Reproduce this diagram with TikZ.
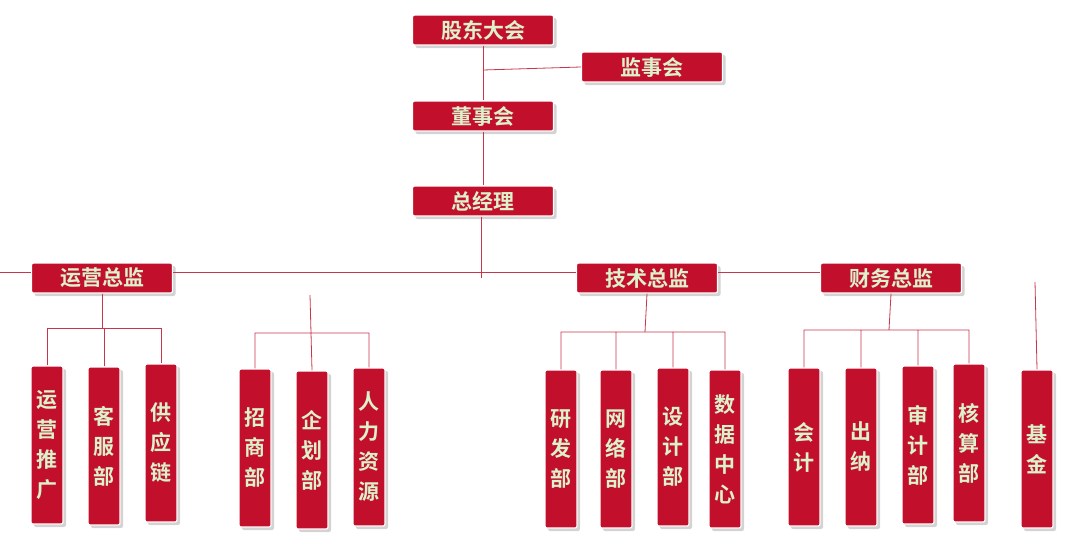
\documentclass[tikz,border=0pt]{standalone}
\usepackage{fontspec}
\setmainfont{Noto Sans CJK SC}[BoldFont={Noto Sans CJK SC Bold}]
\usetikzlibrary{shadows}
\definecolor{boxred}{HTML}{C2102C}
\definecolor{txt}{HTML}{DCF2CC}
\definecolor{ln}{HTML}{C8364C}
\begin{document}
\begin{tikzpicture}[x=1pt,y=-1pt,
 hbox/.style={fill=boxred,draw=white,line width=1.2pt,rounded corners=2pt,minimum width=141pt,minimum height=30pt,inner sep=0pt,text=txt,font=\bfseries\fontsize{21}{22}\selectfont,drop shadow={shadow xshift=3pt,shadow yshift=-3pt,opacity=0.35}},
 vbox/.style={fill=boxred,draw=white,line width=1.2pt,rounded corners=2pt,minimum width=32pt,minimum height=158pt,inner sep=0pt,text=txt,align=center,font=\bfseries\fontsize{21}{30}\selectfont,drop shadow={shadow xshift=3pt,shadow yshift=-3pt,opacity=0.35}},
 cn/.style={draw=ln,line width=0.8pt}]
\useasboundingbox (0,0) rectangle (1081,541);
% connectors first
\coordinate (lft) at (0,272);
\coordinate (j1) at (483,70);
\coordinate (j2) at (481,278);
\coordinate (g2top) at (310,295);
\coordinate (jfund) at (1035,282);
\node[hbox] (gd) at (483,30) {股东大会};
\node[hbox] (js) at (652,67) {监事会};
\node[hbox] (ds) at (483,116) {董事会};
\node[hbox] (zjl) at (483,201) {总经理};
\node[hbox] (yy) at (102,278) {运营总监};
\node[hbox] (js2) at (647,278) {技术总监};
\node[hbox] (cw) at (891,278) {财务总监};
\node[vbox] (a1) at (47,445) {运\\营\\推\\广};
\node[vbox] (a2) at (104,446) {客\\服\\部};
\node[vbox] (a3) at (161,443) {供\\应\\链};
\node[vbox] (b1) at (255,448) {招\\商\\部};
\node[vbox] (b2) at (312,450) {企\\划\\部};
\node[vbox] (b3) at (369,447) {人\\力\\资\\源};
\node[vbox] (c1) at (561,449) {研\\发\\部};
\node[vbox] (c2) at (616,449) {网\\络\\部};
\node[vbox] (c3) at (673,447) {设\\计\\部};
\node[vbox] (c4) at (725,449) {数\\据\\中\\心};
\node[vbox] (d1) at (804,447) {会\\计};
\node[vbox] (d2) at (861,447) {出\\纳};
\node[vbox] (d3) at (918,445) {审\\计\\部};
\node[vbox] (d4) at (969,443) {核\\算\\部};
\node[vbox] (fund) at (1037,449) {基\\金};
\begin{scope}[on background layer/.try]
\end{scope}
\draw[cn] (gd.south) -- (ds.north);
\draw[cn] (j1) -- (js.west);
\draw[cn] (ds.south) -- (zjl.north);
\draw[cn] (zjl.south -| j2) -- (j2);
\draw[cn] (lft) -- (yy.west |- lft);
\draw[cn] (yy.east |- lft) -- (js2.west |- lft);
\draw[cn] (js2.east |- lft) -- (cw.west |- lft);
\draw[cn] (yy.south) -- (102,328) (a1.north) |- (a3.north |- 0,328) -- (a3.north) (a2.north) -- (104,328);
\draw[cn] (g2top) -- (b2.north) (b1.north) |- (b3.north |- 0,333) -- (b3.north);
\draw[cn] (js2.south) -- (645,332) (c1.north) |- (c4.north |- 0,332) -- (c4.north) (c2.north) -- (616,332) (c3.north) -- (673,332);
\draw[cn] (cw.south) -- (889,330) (d1.north) |- (d4.north |- 0,330) -- (d4.north) (d2.north) -- (861,330) (d3.north) -- (918,330);
\draw[cn] (jfund) -- (fund.north);
\end{tikzpicture}
\end{document}
